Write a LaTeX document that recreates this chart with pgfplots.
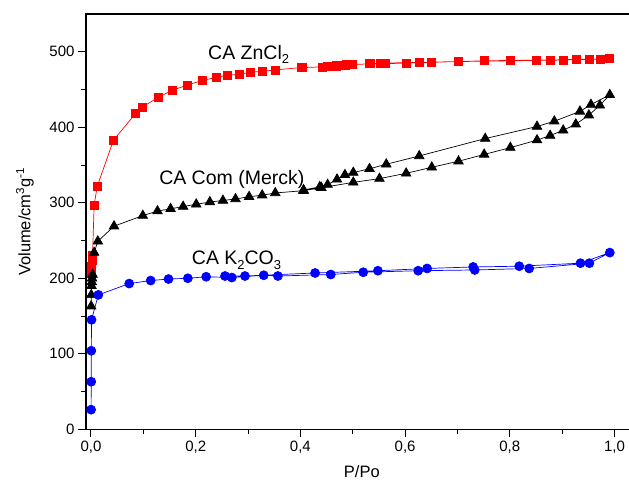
\documentclass[border=0pt]{standalone}
\usepackage{fontspec}
\setmainfont{Liberation Sans}
\usepackage{pgfplots}
\pgfplotsset{compat=1.18}
\newcommand{\sub}[1]{\raisebox{-0.45ex}{\fontsize{13}{15}\selectfont #1}}

\begin{document}
\begin{tikzpicture}
\useasboundingbox (-86pt,-59.7pt) rectangle (543pt,429.3pt);
\begin{axis}[
    width=544pt, height=415.3pt, scale only axis,
    xmin=-0.00955, xmax=1.0296, ymin=0, ymax=550,
    axis line style={line width=1.1pt},
    tick align=outside, tick pos=left,
    major tick length=8pt, minor tick length=4.5pt,
    every tick/.style={black, line width=1pt},
    xtick={0,0.2,0.4,0.6,0.8,1}, minor x tick num=1,
    ytick={0,100,200,300,400,500}, minor y tick num=1,
    x tick label style={/pgf/number format/.cd, use comma, fixed, fixed zerofill, precision=1, /tikz/.cd},
    ticklabel style={font=\fontsize{15}{18}\selectfont},
    /pgf/number format/assume math mode=true,
    xlabel={P/Po},
    ylabel={Volume/cm\textsuperscript{3}g\textsuperscript{-1}},
    every axis x label/.style={at={(axis description cs:0.507,-0.1028)}, anchor=center, font=\fontsize{16.5}{19}\selectfont},
    every axis y label/.style={at={(axis description cs:-0.1121,0.5)}, rotate=90, anchor=center, font=\fontsize{16.5}{19}\selectfont},
]
% CA ZnCl2 (adsorption then desorption)
\addplot[red, line width=0.7pt, mark=square*, mark size=4pt, mark options={solid, fill=red}]
coordinates {
(0.0005,206) (0.001,216) (0.002,224) (0.003,231) (0.006,297) (0.012,322)
(0.043,383) (0.085,418) (0.099,427) (0.129,440) (0.156,449) (0.184,456)
(0.213,462) (0.239,466) (0.261,469) (0.283,470) (0.305,473) (0.328,474)
(0.353,476) (0.401,479) (0.441,480) (0.451,481) (0.469,482) (0.487,483)
(0.499,483) (0.532,484) (0.563,485) (0.627,486) (0.701,487) (0.801,488)
(0.902,489) (0.952,490) (0.991,491)
(0.972,490) (0.928,490) (0.877,489) (0.851,489) (0.751,488) (0.651,486)
(0.602,485) (0.552,484) (0.533,484) (0.500,483) (0.485,482) (0.469,481)
(0.453,481) (0.441,480) (0.404,479)
};
% CA Com (Merck)
\addplot[black, line width=0.7pt, mark=triangle*, mark size=5.5pt, mark options={solid, fill=black}]
coordinates {
(0.0003,163) (0.0005,178) (0.001,190) (0.0015,195) (0.002,200) (0.003,205)
(0.006,234) (0.013,249) (0.044,269) (0.099,283) (0.127,289) (0.152,292)
(0.176,295) (0.201,298) (0.227,301) (0.252,303) (0.276,305) (0.302,308)
(0.327,310) (0.352,313) (0.406,316) (0.440,320) (0.501,327) (0.551,332)
(0.602,339) (0.651,347) (0.702,355) (0.751,364) (0.801,373) (0.852,383)
(0.877,389) (0.902,396) (0.926,404) (0.951,416) (0.972,429) (0.991,443)
(0.955,430) (0.934,421) (0.885,408) (0.852,401) (0.753,385) (0.627,362)
(0.564,351) (0.532,345) (0.501,340) (0.485,337) (0.470,331) (0.452,324)
(0.437,321) (0.406,317)
};
% CA K2CO3
\addplot[blue, line width=0.7pt, mark=*, mark size=4.5pt, mark options={solid, fill=blue}]
coordinates {
(0.0002,26) (0.0004,63) (0.0006,104) (0.001,145) (0.014,178) (0.073,193)
(0.114,197) (0.148,199) (0.185,200) (0.220,202) (0.269,201) (0.330,204)
(0.357,203) (0.458,205) (0.520,208) (0.625,210) (0.733,211) (0.837,213)
(0.952,220) (0.991,234)
(0.935,220) (0.818,216) (0.730,215) (0.642,213) (0.548,210) (0.428,207)
(0.294,203) (0.256,203)
};
\node[anchor=base west, font=\fontsize{19.5}{22}\selectfont, inner sep=0pt] at (axis cs:0.2235,490) {CA ZnCl\sub{2}};
\node[anchor=base west, font=\fontsize{19.5}{22}\selectfont, inner sep=0pt] at (axis cs:0.130,324.5) {CA Com (Merck)};
\node[anchor=base west, font=\fontsize{19.5}{22}\selectfont, inner sep=0pt] at (axis cs:0.1924,217.6) {CA K\sub{2}CO\sub{3}};
\end{axis}
\end{tikzpicture}
\end{document}
